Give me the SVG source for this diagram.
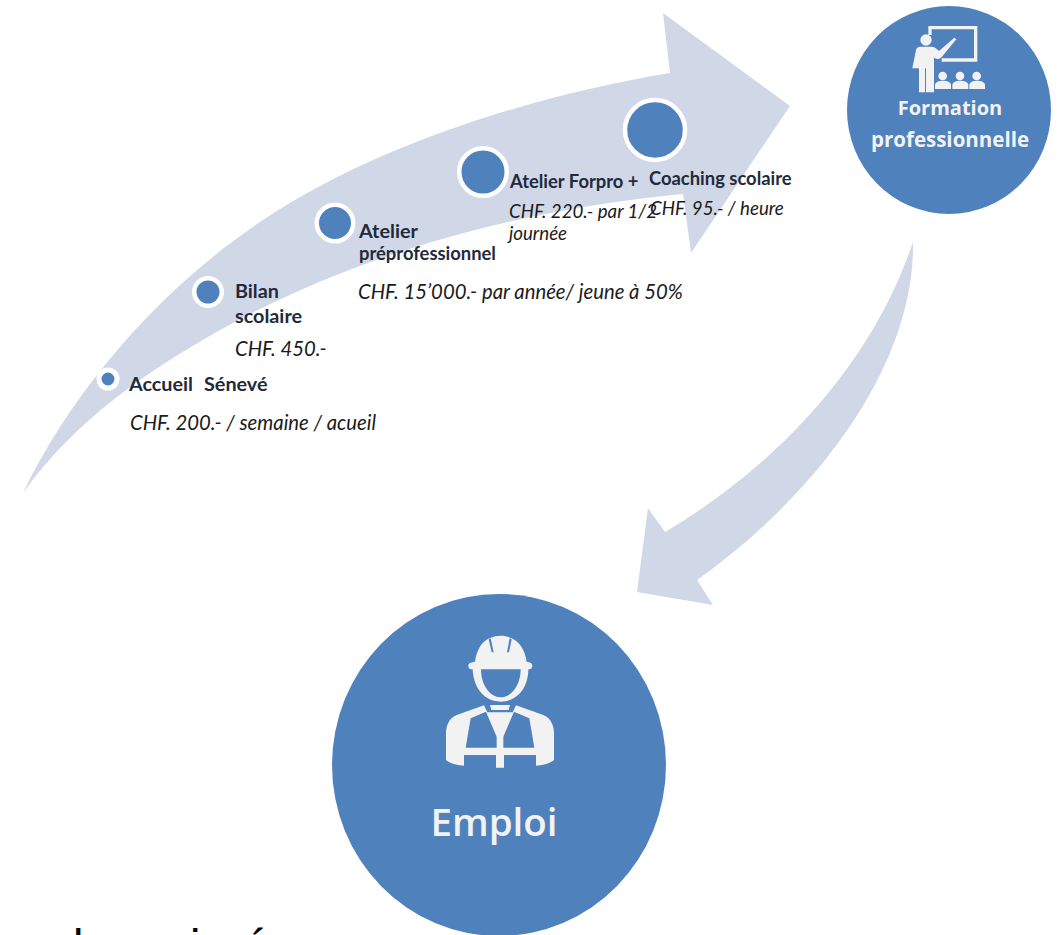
<svg xmlns="http://www.w3.org/2000/svg" width="1063" height="935" viewBox="0 0 1063 935">
<style>
.arrow{fill:#d0d8e8}
.blue{fill:#4f81bd}
.ring{fill:#4f81bd;stroke:#fff}
.icon{fill:#f2f2f2}
.b{font:700 18.400px Lato,"Liberation Sans",sans-serif;fill:#1f2a3a}
.l{font-size:19.800px}
.i{font:italic 400 20.300px Lato,"Liberation Sans",sans-serif;fill:#1a1a1a}
.s{font-size:18.700px}
.w{font-family:"Open Sans","Liberation Sans",sans-serif;font-weight:700;fill:#f2f2f2;text-anchor:middle}
.k{font:400 47px "Liberation Sans",sans-serif;fill:#000}
</style>
<g id="connectors">
<path class="arrow" d="M23 493C75 385 165 285 263 220C370 149 520 98 670 73L663 13L790 106L691 253L683 194C520 210 370 250 233 323C150 368 75 420 23 493Z"/>
<path class="arrow" d="M913 242C915 370 810 500 697 580L713 605L637 592L648 508L665 532C770 470 870 370 913 242Z"/>
</g>
<g id="node-formation">
<ellipse class="blue" cx="949" cy="110" rx="102" ry="104"/>
<g transform="translate(840 0) scale(.33333)">
<path class="icon" d="M265 78H412V185H305V175H402V88H275V105H265Z"/>
<circle class="icon" cx="258" cy="120" r="17"/>
<path class="icon" d="M240 140H275C280 140 285 142 290 147L297 153L343 113L349 118L306 170C300 176 292 180 285 175L282 172V277H258V205H255V277H237V205H217L228 150C230 143 235 140 240 140Z"/>
<circle class="icon" cx="308" cy="228" r="13"/><path class="icon" d="M285 267V255C285 238 333 238 333 255V267Z"/>
<circle class="icon" cx="360" cy="228" r="13"/><path class="icon" d="M337 267V255C337 238 385 238 385 255V267Z"/>
<circle class="icon" cx="410" cy="228" r="13"/><path class="icon" d="M388 267V255C388 238 435 238 435 255V267Z"/>
</g>
<text class="w" x="950" y="115" font-size="20">Formation</text>
<text class="w" x="950" y="147" font-size="20.500">professionnelle</text>
</g>
<g id="node-emploi">
<ellipse class="blue" cx="499" cy="765" rx="167" ry="171"/>
<g transform="translate(400 620) scale(.33333)">
<path class="icon" fill-rule="evenodd" d="M205 137C205 128 215 127 225 125C230 90 245 65 268 55C290 45 315 45 335 55C358 65 375 90 380 125C390 127 397 128 397 137C397 146 390 148 385 148C385 195 360 243 302 245C245 243 220 195 218 148C212 148 205 146 205 137ZM243 148C243 195 270 232 302 232C335 232 362 195 362 148ZM266 58L275 97H281L272 55ZM335 58L329 55L321 97H327Z"/>
<path class="icon" d="M270 255H330L326 270H274Z"/>
<path class="icon" fill-rule="evenodd" d="M252 256L262 277H338L348 256L430 285C455 295 462 320 462 340V420C450 430 430 436 408 437V405H312V443H288V405H192V437C170 436 150 430 138 420V340C138 320 145 295 170 285ZM212 295L258 275L290 350V383H197ZM388 295L342 275L310 350V383H403Z"/>
</g>
<text class="w" x="494" y="836" font-size="38.500" style="font-weight:600">Emploi</text>
</g>
<g id="node-accueil"><circle class="ring" cx="108" cy="379" r="9" stroke-width="5"/>
<text class="b l" x="129" y="391">Accueil<tspan x="204">Sénevé</tspan></text>
<text class="i" x="130" y="430">CHF. 200.- / semaine / acueil</text></g>
<g id="node-bilan"><circle class="ring" cx="208" cy="292" r="13.750" stroke-width="4.500"/>
<text class="b l" x="235" y="298">Bilan</text><text class="b l" x="235" y="323">scolaire</text>
<text class="i" x="235" y="356">CHF. 450.-</text></g>
<g id="node-atelier"><circle class="ring" cx="335" cy="223" r="18.250" stroke-width="4.500"/>
<text class="b l" x="359" y="238">Atelier</text><text class="b" x="359" y="260">préprofessionnel</text>
<text class="i" x="358" y="299">CHF. 15’000.- par année/ jeune à 50%</text></g>
<g id="node-forpro"><circle class="ring" cx="483" cy="172" r="23.750" stroke-width="4.500"/>
<text class="b" x="510" y="188">Atelier Forpro +</text>
<text class="i s" x="509" y="218">CHF. 220.- par 1/2</text><text class="i s" x="509" y="240">journée</text></g>
<g id="node-coaching"><circle class="ring" cx="655" cy="130" r="30" stroke-width="4.500"/>
<text class="b" x="649" y="185">Coaching scolaire</text>
<text class="i s" x="650" y="215">CHF. 95.- / heure</text></g>
<g id="cropped-text">
<text class="k" x="73" y="962">l</text><text class="k" x="190" y="962">i</text><text class="k" x="243" y="962">é</text>
</g>
</svg>
